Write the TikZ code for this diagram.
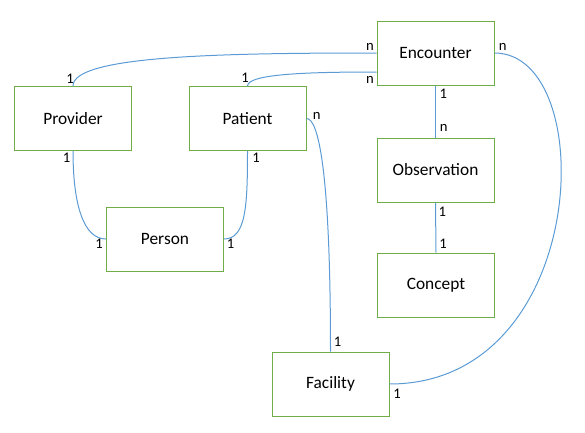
\documentclass[tikz,border=0pt]{standalone}
\usepackage{fontspec}
\setmainfont{Carlito}
\definecolor{boxgreen}{RGB}{112,173,71}
\definecolor{linkblue}{RGB}{91,155,213}
\tikzset{entity/.style={draw=boxgreen, line width=0.75pt, minimum width=87.75pt,
    minimum height=48pt, inner sep=0pt, font=\fontsize{13}{15}\selectfont},
  card/.style={inner sep=0pt, font=\fontsize{11}{13}\selectfont},
  link/.style={draw=linkblue, line width=0.75pt}}
\begin{document}
\begin{tikzpicture}[x=0.75pt,y=-0.75pt]; \useasboundingbox (0,0) rectangle (585,432);
    \node[entity] (Enc) at (435.5,53) {Encounter}; \node[entity] (Prov) at
    (73,118.5) {Provider}; \node[entity] (Pat) at (247.5,118.5) {Patient};
    \node[entity] (Obs) at (435.5,170) {Observation}; \node[entity] (Pers) at
    (165,239) {Person}; \node[entity] (Con) at (436,285) {Concept};
    \node[entity] (Fac) at (330.5,384) {Facility};

    \draw[link] (Prov.north) .. controls +(0,-30) and +(-160,0) .. (Enc.west);
    \draw[link] (Pat.north) .. controls +(0,-12) and +(-70,0) ..
   	 ([yshift=-14.25pt]Enc.west);

    \draw[link] (Enc.south) -- (Obs.north); \draw[link] (Obs.south) --
   	 (Con.north);

    \draw[link] (Pat.east) .. controls +(12,0) and +(0,-180) .. (Fac.north);
    \draw[link] (Enc.east) .. controls +(106,0) and +(201,0) .. (Fac.east);

    \draw[link] (Prov.south) .. controls +(0,55) and +(-22,0) .. (Pers.west);
    \draw[link] (Pat.south) .. controls +(0,55) and +(22,0) .. (Pers.east);

    \node[card] (ProvT) at (70,79) {1}; \node[card] (PatT) at (245,78) {1};
    \node[card] (ProvB) at (66.7,158) {1}; \node[card] (PatB) at (256,158) {1};
    \node[card] (PersL) at (99,244) {1}; \node[card] (PersR) at (230.7,244) {1};
    \node[card] (PatR) at (316.7,116) {n}; \node[card] (EncLa) at (370,46.7) {n};
    \node[card] (EncLb) at (370,80) {n}; \node[card] (EncR) at (502.7,46.7) {n};
    \node[card] (EncB) at (443.3,94) {1}; \node[card] (ObsT) at (443.7,128) {n};
    \node[card] (ObsB) at (442.3,211.7) {1}; \node[card] (ConT) at (443,243.3) {1};
    \node[card] (FacT) at (337.7,341.7) {1}; \node[card] (FacR) at (397,393.3) {1};
\end{tikzpicture}
\end{document}
